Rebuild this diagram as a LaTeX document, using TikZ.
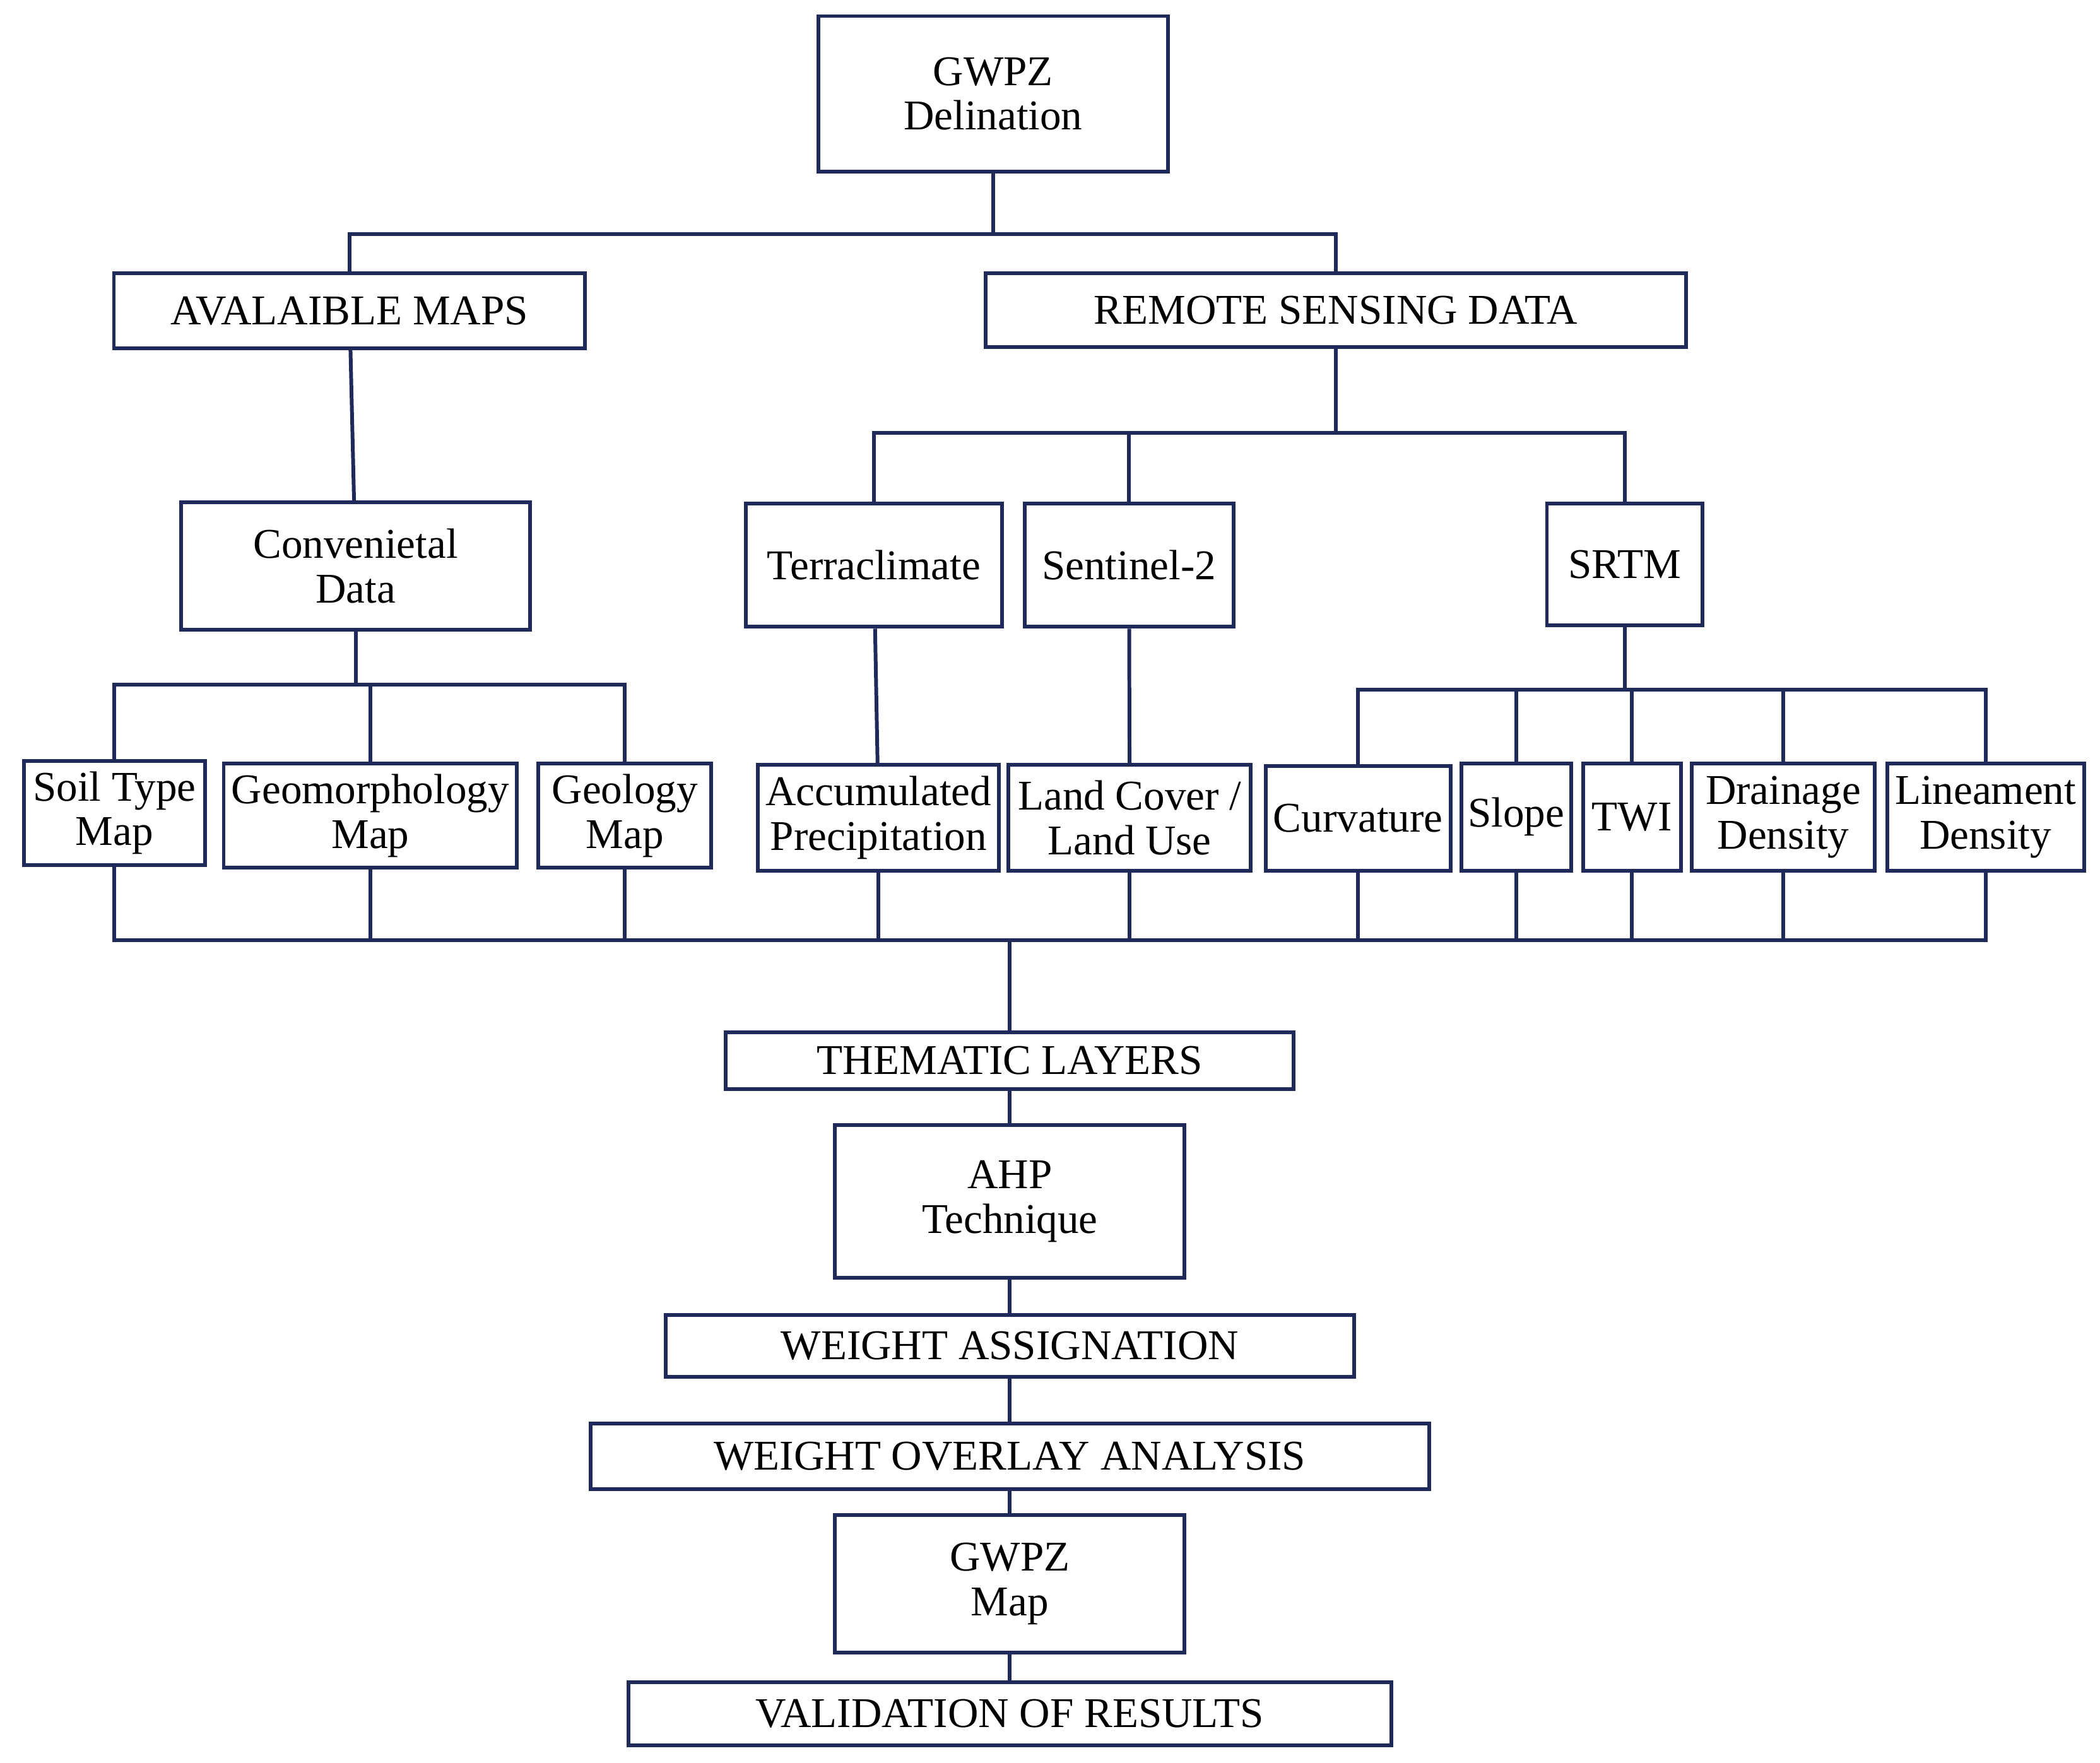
\documentclass[tikz,border=0pt]{standalone}
\usepackage{fontspec}
\setmainfont{Liberation Serif}
\definecolor{navy}{HTML}{1F2A5A}
\tikzset{
  box/.style={rectangle, draw=navy, line width=1.6pt, align=center,
    inner sep=0, font=\fontsize{18}{19}\selectfont},
  link/.style={draw=navy, line width=1.6pt}
}
\begin{document}
\begin{tikzpicture}[x=0.02cm, y=-0.02cm]
  \useasboundingbox (0,0) rectangle (1568,1316);

  \node[box, minimum width=5.22cm, minimum height=2.32cm] (top) at (741.5,70) {GWPZ\\Delination};
  \node[box, minimum width=7.04cm, minimum height=1.12cm] (avail) at (261,232) {AVALAIBLE MAPS};
  \node[box, minimum width=10.46cm, minimum height=1.10cm] (rs) at (997.5,231.5) {REMOTE SENSING DATA};

  \node[box, minimum width=5.22cm, minimum height=1.90cm] (conv) at (265.5,422.5) {Convenietal\\Data};
  \node[box, minimum width=3.82cm, minimum height=1.84cm] (terra) at (652.5,422) {Terraclimate};
  \node[box, minimum width=3.12cm, minimum height=1.84cm] (sent) at (843,422) {Sentinel-2};
  \node[box, minimum width=2.32cm, minimum height=1.82cm] (srtm) at (1213,421.5) {SRTM};

  \node[box, minimum width=2.70cm, minimum height=1.56cm] (soil) at (85.5,607) {Soil Type\\Map};
  \node[box, minimum width=4.38cm, minimum height=1.56cm] (geom) at (276.5,609) {Geomorphology\\Map};
  \node[box, minimum width=2.58cm, minimum height=1.56cm] (geol) at (466.5,609) {Geology\\Map};
  \node[box, minimum width=3.60cm, minimum height=1.58cm] (prec) at (656,610.5) {Accumulated\\Precipitation};
  \node[box, minimum width=3.62cm, minimum height=1.58cm] (lulc) at (843.5,610.5) {Land Cover /\\Land Use};
  \node[box, minimum width=2.76cm, minimum height=1.56cm] (curv) at (1014,611) {Curvature};
  \node[box, minimum width=1.64cm, minimum height=1.60cm] (slope) at (1132,610) {Slope};
  \node[box, minimum width=1.46cm, minimum height=1.60cm] (twi) at (1218.5,610) {TWI};
  \node[box, minimum width=2.74cm, minimum height=1.60cm] (drain) at (1331.5,610) {Drainage\\Density};
  \node[box, minimum width=2.94cm, minimum height=1.60cm] (linea) at (1482.5,610) {Lineament\\Density};

  \node[box, minimum width=8.48cm, minimum height=0.84cm] (them) at (754,792) {THEMATIC LAYERS};
  \node[box, minimum width=5.22cm, minimum height=2.28cm] (ahp) at (754,897) {AHP\\Technique};
  \node[box, minimum width=10.28cm, minimum height=0.92cm] (wa) at (754,1005) {WEIGHT ASSIGNATION};
  \node[box, minimum width=12.52cm, minimum height=0.98cm] (woa) at (754,1087.5) {WEIGHT OVERLAY ANALYSIS};
  \node[box, minimum width=5.22cm, minimum height=2.06cm] (gmap) at (754,1182.5) {GWPZ\\Map};
  \node[box, minimum width=11.40cm, minimum height=0.94cm] (val) at (754,1279.5) {VALIDATION OF RESULTS};

  % junctions
  \coordinate (jtop) at (741.5,175);
  \coordinate (jrs) at (997.5,323);
  \coordinate (jconv) at (265.5,511);
  \coordinate (jsrtm) at (1213,515);
  \coordinate (bus) at (754,702);

  \draw[link] (top) -- (jtop);
  \draw[link] (avail.north) |- (jtop) -| (rs.north);
  \draw[link] (avail) -- (conv);
  \draw[link] (rs) -- (jrs);
  \draw[link] (terra.north) |- (jrs) -| (srtm.north);
  \draw[link] (sent.north) |- (jrs);
  \draw[link] (conv) -- (jconv);
  \foreach \n in {soil,geom,geol} \draw[link] (\n.north) |- (jconv);
  \draw[link] (terra) -- (prec);
  \draw[link] (sent) -- (lulc);
  \draw[link] (srtm) -- (jsrtm);
  \foreach \n in {curv,slope,twi,drain,linea} \draw[link] (\n.north) |- (jsrtm);

  % bottom bus
  \foreach \n in {soil,geom,geol,prec,lulc,curv,slope,twi,drain,linea}
    \draw[link] (\n.south) |- (bus);
  \draw[link] (bus) -- (them.north);
  \draw[link] (them) -- (ahp);
  \draw[link] (ahp) -- (wa);
  \draw[link] (wa) -- (woa);
  \draw[link] (woa) -- (gmap);
  \draw[link] (gmap) -- (val);
\end{tikzpicture}
\end{document}
